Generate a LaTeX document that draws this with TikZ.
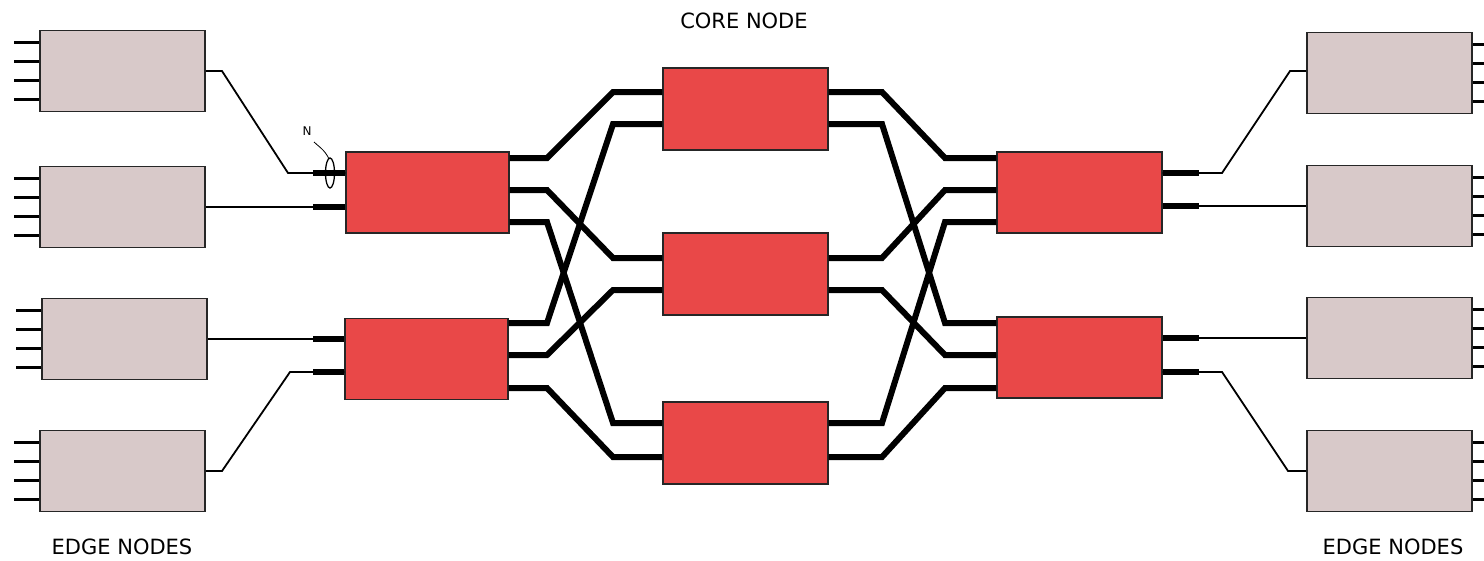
\documentclass[tikz,border=0pt]{standalone}
\usepackage{fontspec}
\setmainfont{DejaVu Sans}
\begin{document}
\begin{tikzpicture}[x=1pt,y=-1pt,
  edgebox/.style={draw=black!85,line width=1.6pt,fill=edgegray,minimum width=165pt,minimum height=81pt,inner sep=0pt},
  redbox/.style={draw=black!85,line width=1.3pt,fill=corered,minimum width=163pt,minimum height=81pt,inner sep=0pt},
  thinline/.style={line width=1.8pt,black},
  stubline/.style={line width=2.2pt,black},
  fatline/.style={line width=6pt,black,line join=miter},
  portline/.style={line width=6pt,black},
  lbl/.style={font=\fontsize{21}{25}\selectfont,inner sep=0pt}]
\definecolor{edgegray}{RGB}{216,201,201}
\definecolor{corered}{RGB}{233,72,72}
\useasboundingbox (0,0) rectangle (1484,560);

% labels
\node[lbl] (tcore) at (744,21) {CORE NODE};
\node[lbl] (tedgel) at (122,547) {EDGE NODES};
\node[lbl] (tedger) at (1393,547) {EDGE NODES};

% edge nodes left
\node[edgebox] (E1) at (122.5,71) {};
\node[edgebox] (E2) at (122.5,207) {};
\node[edgebox] (E3) at (124.5,339) {};
\node[edgebox] (E4) at (122.5,471) {};
% edge nodes right
\node[edgebox] (F1) at (1389.5,73) {};
\node[edgebox] (F2) at (1389.5,206) {};
\node[edgebox] (F3) at (1389.5,338) {};
\node[edgebox] (F4) at (1389.5,471) {};

% red nodes
\node[redbox] (A1) at (427.5,192.5) {};
\node[redbox] (A2) at (426.5,359) {};
\node[redbox,minimum width=165pt,minimum height=82pt] (C1) at (745.5,109) {};
\node[redbox,minimum width=165pt,minimum height=82pt] (C2) at (745.5,274) {};
\node[redbox,minimum width=165pt,minimum height=82pt] (C3) at (745.5,443) {};
\node[redbox,minimum width=165pt] (B1) at (1079.5,192.5) {};
\node[redbox,minimum width=165pt] (B2) at (1079.5,357.5) {};

% stubs on edge nodes
\foreach \n in {E1,E2,E3,E4}{
  \foreach \d in {-28.5,-9.5,9.5,28.5}{
    \draw[stubline] (\n.west) ++(0,\d) -- ++(-25,0);
  }
}
\foreach \n in {F1,F2,F3,F4}{
  \foreach \d in {-28.5,-9.5,9.5,28.5}{
    \draw[stubline] (\n.east) ++(0,\d) -- ++(20,0);
  }
}

% left access links
\draw[thinline] (E1.east) -- (222,71) -- (288,173) -- (A1.west |- 0,173);
\draw[thinline] (E2.east) -- (A1.west |- E2.east);
\draw[thinline] (E3.east) -- (A2.west |- E3.east);
\draw[thinline] (E4.east) -- (222,471) -- (290,372) -- (A2.west |- 0,372);
\coordinate (pa1) at (313,173);
\coordinate (pa2) at (313,207);
\coordinate (pa3) at (313,339);
\coordinate (pa4) at (313,372);
\draw[portline] (pa1) -- (A1.west |- pa1);
\draw[portline] (pa2) -- (A1.west |- pa2);
\draw[portline] (pa3) -- (A2.west |- pa3);
\draw[portline] (pa4) -- (A2.west |- pa4);

% right access links
\draw[thinline] (B1.east |- 0,173) -- (1222,173) -- (1290,71) -- (F1.west |- 0,71);
\draw[thinline] (B1.east |- F2.west) -- (F2.west);
\draw[thinline] (B2.east |- F3.west) -- (F3.west);
\draw[thinline] (B2.east |- 0,372) -- (1222,372) -- (1288,471) -- (F4.west);
\coordinate (pb1) at (1199,173);
\coordinate (pb2) at (1199,206);
\coordinate (pb3) at (1199,338);
\coordinate (pb4) at (1199,372);
\draw[portline] (B1.east |- pb1) -- (pb1);
\draw[portline] (B1.east |- pb2) -- (pb2);
\draw[portline] (B2.east |- pb3) -- (pb3);
\draw[portline] (B2.east |- pb4) -- (pb4);

% bundle marker N
\draw[line width=1.3pt] (330,173) ellipse (4.5pt and 15pt);
\draw[line width=0.8pt] (329,159) .. controls (325,150) and (318,146) .. (314,142);
\node[font=\fontsize{12}{14}\selectfont,inner sep=0pt] (nlab) at (307,131) {N};

% core fabric: left stage
\draw[fatline] (A1.east |- 0,158) -- (547,158) -- (613,92) -- (C1.west |- 0,92);
\draw[fatline] (A1.east |- 0,190) -- (547,190) -- (613,258) -- (C2.west |- 0,258);
\draw[fatline] (A1.east |- 0,222) -- (547,222) -- (613,423) -- (C3.west |- 0,423);
\draw[fatline] (A2.east |- 0,323) -- (547,323) -- (613,124) -- (C1.west |- 0,124);
\draw[fatline] (A2.east |- 0,355) -- (547,355) -- (613,290) -- (C2.west |- 0,290);
\draw[fatline] (A2.east |- 0,388) -- (547,388) -- (613,457) -- (C3.west |- 0,457);

% core fabric: right stage
\draw[fatline] (C1.east |- 0,92) -- (882,92) -- (945,158) -- (B1.west |- 0,158);
\draw[fatline] (C1.east |- 0,124) -- (882,124) -- (945,323) -- (B2.west |- 0,323);
\draw[fatline] (C2.east |- 0,258) -- (882,258) -- (945,190) -- (B1.west |- 0,190);
\draw[fatline] (C2.east |- 0,290) -- (882,290) -- (945,355) -- (B2.west |- 0,355);
\draw[fatline] (C3.east |- 0,423) -- (882,423) -- (945,222) -- (B1.west |- 0,222);
\draw[fatline] (C3.east |- 0,457) -- (882,457) -- (945,388) -- (B2.west |- 0,388);
\end{tikzpicture}
\end{document}
